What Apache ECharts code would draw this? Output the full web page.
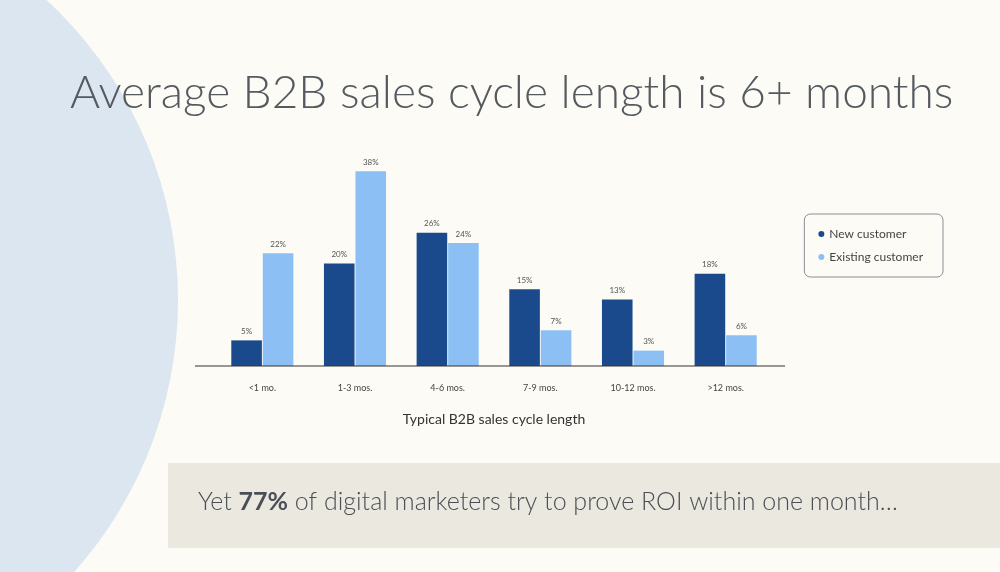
<!DOCTYPE html>
<html>
<head>
<meta charset="UTF-8">
<script src="https://cdn.jsdelivr.net/npm/echarts@6/dist/echarts.min.js"></script>
<style>html,body{margin:0;padding:0;background:#fcfbf5;}</style>
</head>
<body>
<div id="main" style="width:1000px;height:572px;"></div>
<script type="text/javascript">
var categories = ['<1 mo.', '1-3 mos.', '4-6 mos.', '7-9 mos.', '10-12 mos.', '>12 mos.'];
var newCustomer = [5, 20, 26, 15, 13, 18];
var existingCustomer = [22, 38, 24, 7, 3, 6];

var chart = echarts.init(document.getElementById('main'));
var font = 'Lato, "Open Sans", sans-serif';
var option = {
    backgroundColor: '#fcfbf5',
    graphic: [
        { type: 'circle', shape: { cx: -230, cy: 300, r: 408 }, style: { fill: '#dce6f1' }, z: -10 },
        { type: 'rect', shape: { x: 168, y: 463, width: 832, height: 85 }, style: { fill: '#ebe8e0' }, z: -5 },
        { type: 'line', shape: { x1: 195, y1: 366, x2: 785, y2: 366 }, style: { stroke: '#333', lineWidth: 1 }, z: 5 },
        { type: 'text', left: 70, top: 70, style: { text: 'Average B2B sales cycle length is 6+ months', font: '300 46px ' + font, fill: '#555a60' } },
        { type: 'text', left: 198, top: 489, style: {
            text: '{a|Yet }{b|77%}{a| of digital marketers try to prove ROI within one month…}',
            rich: { a: { font: '300 25px ' + font, fill: '#4a4f55' }, b: { font: 'bold 25px ' + font, fill: '#4a4f55' } } } }
    ],
    legend: {
        orient: 'vertical', right: 57, top: 214, padding: [14, 20, 14, 14], itemGap: 11,
        icon: 'circle', itemWidth: 6, itemHeight: 6,
        borderColor: '#8a8f96', borderWidth: 1, borderRadius: 6, backgroundColor: '#fcfbf5',
        textStyle: { fontFamily: font, fontSize: 12, color: '#444' },
        data: ['New customer', 'Existing customer']
    },
    grid: { left: 216, right: 228, top: 161, bottom: 206 },
    xAxis: {
        type: 'category', data: categories,
        name: 'Typical B2B sales cycle length', nameLocation: 'middle', nameGap: 46,
        nameTextStyle: { fontFamily: font, fontSize: 14, color: '#333' },
        axisLine: { show: false }, axisTick: { show: false },
        axisLabel: { fontFamily: font, fontSize: 9, color: '#444', margin: 18 }
    },
    yAxis: { type: 'value', min: 0, max: 40, show: false, splitLine: { show: false } },
    series: [
        { name: 'New customer', type: 'bar', data: newCustomer, barGap: '3%', barCategoryGap: '33%',
          itemStyle: { color: '#1a4a8c' },
          label: { show: true, position: 'top', formatter: '{c}%', fontSize: 8, color: '#555', fontFamily: font } },
        { name: 'Existing customer', type: 'bar', data: existingCustomer,
          itemStyle: { color: '#8cc0f5' },
          label: { show: true, position: 'top', formatter: '{c}%', fontSize: 8, color: '#555', fontFamily: font } }
    ]
};
chart.setOption(option);
</script>
</body>
</html>
